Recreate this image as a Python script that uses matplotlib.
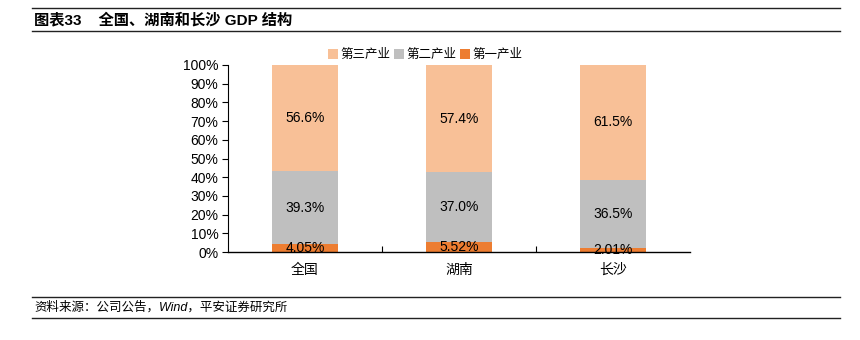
import matplotlib
matplotlib.use("Agg")
import matplotlib.pyplot as plt
from matplotlib.lines import Line2D
import numpy as np

plt.rcParams['font.family'] = ['Liberation Sans', 'Noto Sans CJK SC', 'DejaVu Sans']

categories = ['全国', '湖南', '长沙']
primary = [4.05, 5.52, 2.01]
secondary = [39.3, 37.0, 36.5]
tertiary = [56.6, 57.4, 61.5]
primary_labels = ['4.05%', '5.52%', '2.01%']
secondary_labels = ['39.3%', '37.0%', '36.5%']
tertiary_labels = ['56.6%', '57.4%', '61.5%']
series_names = ['第三产业', '第二产业', '第一产业']
yticks = [0, 10, 20, 30, 40, 50, 60, 70, 80, 90, 100]

c1, c2, c3 = '#ED7D31', '#BFBFBF', '#F8C097'

fig = plt.figure(figsize=(8.6, 3.4), dpi=100)
W, H = 860, 340
ax = fig.add_axes([228 / W, 1 - 252 / H, (690 - 228) / W, (252 - 65) / H])

x = np.arange(len(categories))
w = 0.43
p = np.array(primary)
s = np.array(secondary)
t = np.array(tertiary)
b1 = ax.bar(x, p, w, color=c1, label=series_names[2])
b2 = ax.bar(x, s, w, bottom=p, color=c2, label=series_names[1])
b3 = ax.bar(x, t, w, bottom=p + s, color=c3, label=series_names[0])

fs = 10
for i in range(len(categories)):
    ax.text(x[i], p[i] / 2, primary_labels[i], ha='center', va='center', fontsize=fs)
    ax.text(x[i], p[i] + s[i] / 2, secondary_labels[i], ha='center', va='center', fontsize=fs)
    ax.text(x[i], p[i] + s[i] + t[i] / 2, tertiary_labels[i], ha='center', va='center', fontsize=fs)

ax.set_xlim(-0.5, 2.5)
ax.set_ylim(0, 100)
ax.set_yticks(yticks)
ax.set_yticklabels([f'{v}%' for v in yticks], fontsize=fs)
ax.set_xticks(x)
ax.set_xticklabels(categories, fontsize=fs)
ax.tick_params(axis='x', length=0, pad=8)
ax.set_xticks([0.5, 1.5], minor=True)
ax.tick_params(axis='x', which='minor', direction='in', length=4, width=0.8)
ax.tick_params(axis='y', direction='out', length=4, width=0.8, pad=3)
for sp in ['top', 'right']:
    ax.spines[sp].set_visible(False)
ax.spines['left'].set_linewidth(0.8)
ax.spines['bottom'].set_linewidth(1.0)

handles = [b3, b2, b1]
fig.legend(handles, series_names, loc='center', bbox_to_anchor=(425 / W, 1 - 55 / H),
           ncol=3, frameon=False, fontsize=9, handlelength=0.8, handleheight=0.8,
           handletextpad=0.2, columnspacing=0.3)

# header and footer
for yy in [8, 31, 297, 318]:
    fig.add_artist(Line2D([32 / W, 840 / W], [1 - yy / H, 1 - yy / H], color='#222222', lw=1.0))
fig.text(34 / W, 1 - 19.5 / H, '图表33    全国、湖南和长沙 GDP 结构', fontsize=11, fontweight='bold',
         va='center', ha='left')
fig.text(34 / W, 1 - 307.5 / H, '资料来源：公司公告，Wind，平安证券研究所', fontsize=9, fontstyle='italic',
         va='center', ha='left')

fig.savefig('out.png', dpi=100)
